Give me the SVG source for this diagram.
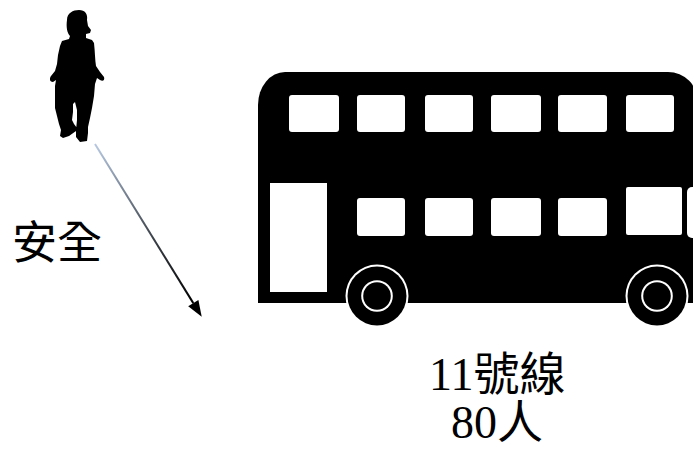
<svg xmlns="http://www.w3.org/2000/svg" width="693" height="451" viewBox="0 0 693 451">
  <defs>
    <style>
      .lbl { font-family: "Liberation Serif", "Noto Sans CJK TC", serif; fill: #000; }
      .win { fill: #fff; }
      .blk { fill: #000; }
    </style>
    <linearGradient id="arrowGrad" gradientUnits="userSpaceOnUse" x1="95" y1="144" x2="193" y2="303">
      <stop offset="0" stop-color="#b7c9e2"/>
      <stop offset="0.6" stop-color="#3a4048"/>
      <stop offset="1" stop-color="#000"/>
    </linearGradient>
    <marker id="arrowHead" markerUnits="userSpaceOnUse" markerWidth="16" markerHeight="12" refX="0" refY="6" orient="auto" overflow="visible">
      <path d="M0,0 L16,6 L0,12 Z" fill="#000"/>
    </marker>
  </defs>

  <rect width="693" height="451" fill="#fff"/>

  <g id="child">
    <path class="blk" d="M67,20 C67,13 73,10 79,10 C85,10 88,14 87,20 L88,26 L91,30 L90,33 L86,34 L86,38
      L92,40 L94,43 C95,52 95,60 96,66 L100,72 L104,77 C105,80 103,82 100,80 L97,78
      L95,84 L94,96 L92,108 L90,118 L88,127 L88,133 L87,141 L80,142 L76,137 L76,130 L77,120 L77,110 L75,102
      L73,104 L73,112 L72,120 L74,124 L77,128 L76,131 L69,136 L63,138 L60,136 L61,130 L59,124 L57,116 L55,108
      L55,96 L55,86 L56,80 L53,82 C50,82 49,79 51,76 L55,71 L57,64 L58,55 L60,46 L62,41 L69,39 L70,36
      C67,33 66,27 67,20 Z"/>
  </g>

  <g id="bus">
    <path class="blk" d="M285,72 L668,72 A30,30 0 0 1 698,102 L698,303 L258,303 L258,105 A27,33 0 0 1 285,72 Z"/>
    <!-- upper deck windows -->
    <rect class="win" x="289" y="95" width="50" height="37" rx="3"/>
    <rect class="win" x="357" y="95" width="48" height="37" rx="3"/>
    <rect class="win" x="425" y="95" width="48" height="37" rx="3"/>
    <rect class="win" x="491" y="95" width="50" height="37" rx="3"/>
    <rect class="win" x="558" y="95" width="49" height="37" rx="3"/>
    <rect class="win" x="626" y="95" width="48" height="37" rx="3"/>
    <!-- lower deck -->
    <rect class="win" x="270" y="183" width="57" height="109"/>
    <rect class="win" x="357" y="198" width="48" height="38" rx="3"/>
    <rect class="win" x="425" y="198" width="48" height="38" rx="3"/>
    <rect class="win" x="491" y="198" width="50" height="38" rx="3"/>
    <rect class="win" x="558" y="198" width="49" height="38" rx="3"/>
    <rect class="win" x="626" y="187" width="56" height="48" rx="2"/>
    <rect class="win" x="687" y="187" width="20" height="51" rx="5"/>
    <!-- wheels -->
    <circle fill="#fff" cx="377" cy="296" r="31.5"/>
    <circle class="blk" cx="377" cy="296" r="29.5"/>
    <circle fill="#fff" cx="377" cy="296" r="15.8"/>
    <circle class="blk" cx="377" cy="296" r="13.8"/>
    <circle fill="#fff" cx="657" cy="296" r="31.5"/>
    <circle class="blk" cx="657" cy="296" r="29.5"/>
    <circle fill="#fff" cx="657" cy="296" r="15.8"/>
    <circle class="blk" cx="657" cy="296" r="13.8"/>
    <text class="lbl" font-size="46" text-anchor="middle">
      <tspan x="503" y="390">11號線</tspan>
      <tspan x="497" y="438">80人</tspan>
    </text>
  </g>

  <g id="connectors">
    <line x1="95" y1="144" x2="193.3" y2="303.1" stroke="url(#arrowGrad)" stroke-width="2" marker-end="url(#arrowHead)"/>
    <text class="lbl" x="12" y="259" font-size="45">安全</text>
  </g>
</svg>
